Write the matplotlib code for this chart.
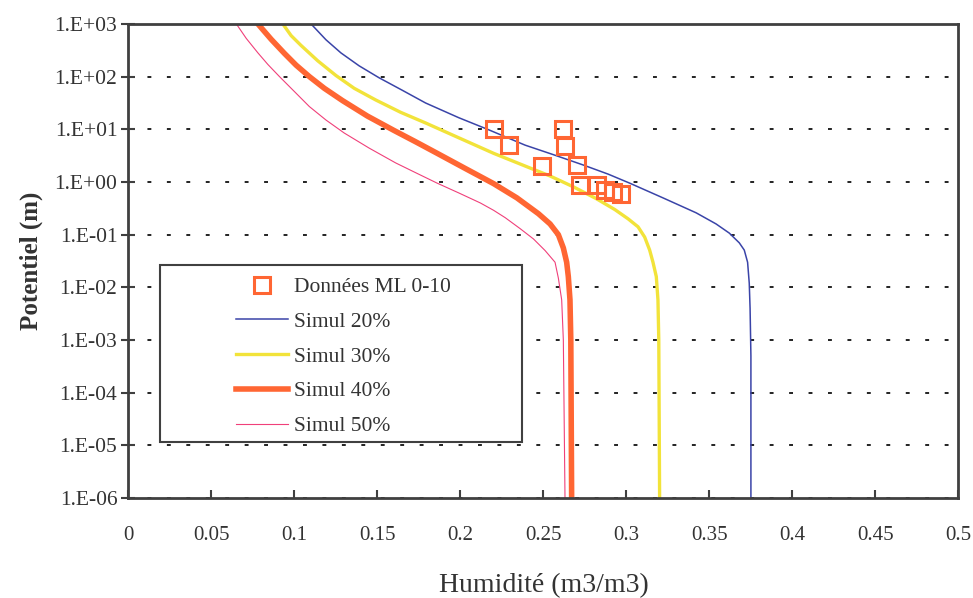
import matplotlib
matplotlib.use("Agg")
import matplotlib.pyplot as plt
from matplotlib.patches import Rectangle
from matplotlib.ticker import FuncFormatter, FixedLocator, NullLocator
import numpy as np

plt.rcParams['font.family'] = ['Liberation Serif', 'DejaVu Serif']

# measured data (Données ML 0-10)
obs_theta = [0.220, 0.229, 0.249, 0.262, 0.263, 0.270, 0.272, 0.282, 0.287, 0.292, 0.297]
obs_h = [10.2, 5.0, 2.0, 10.2, 4.9, 2.1, 0.86, 0.86, 0.70, 0.64, 0.58]

# simulated retention curves
s20_theta = [0.110, 0.119, 0.128, 0.139, 0.151, 0.165, 0.179, 0.199, 0.217, 0.239, 0.256,
             0.274, 0.289, 0.302, 0.322, 0.342, 0.354, 0.362, 0.368, 0.371, 0.373, 0.374,
             0.3745, 0.375, 0.375]
s20_h = [1000, 500, 282, 160, 95, 55, 31.6, 16.6, 9.8, 5.0, 3.3,
         2.1, 1.41, 0.95, 0.5, 0.26, 0.16, 0.107, 0.07, 0.051, 0.03, 0.012,
         0.004, 0.0005, 1e-6]

s30_theta = [0.093, 0.098, 0.104, 0.114, 0.125, 0.136, 0.149, 0.164, 0.179, 0.199, 0.220,
             0.240, 0.254, 0.268, 0.282, 0.293, 0.301, 0.307, 0.311, 0.314, 0.316, 0.318,
             0.319, 0.3195, 0.320]
s30_h = [1000, 600, 390, 200, 105, 60, 36, 21, 13.2, 6.9, 3.5,
         1.95, 1.3, 0.81, 0.48, 0.30, 0.2, 0.141, 0.09, 0.051, 0.03, 0.016,
         0.0058, 0.001, 1e-6]

s40_theta = [0.078, 0.086, 0.094, 0.101, 0.109, 0.118, 0.129, 0.144, 0.160, 0.173, 0.186,
             0.203, 0.220, 0.234, 0.247, 0.254, 0.259, 0.262, 0.264, 0.265, 0.266,
             0.2665, 0.267]
s40_h = [1000, 510, 275, 165, 100, 60, 35, 17.8, 9.5, 5.8, 3.5,
         1.8, 0.93, 0.50, 0.25, 0.16, 0.10, 0.056, 0.03, 0.016, 0.0058,
         0.001, 1e-6]

s50_theta = [0.065, 0.071, 0.078, 0.084, 0.091, 0.100, 0.109, 0.119, 0.130, 0.145, 0.161,
             0.174, 0.186, 0.199, 0.212, 0.220, 0.227, 0.236, 0.244, 0.251, 0.257,
             0.259, 0.261, 0.262, 0.263]
s50_h = [1000, 530, 282, 170, 100, 52, 27, 15, 8.5, 4.4, 2.3,
         1.45, 0.95, 0.62, 0.40, 0.29, 0.21, 0.13, 0.083, 0.05, 0.03,
         0.015, 0.0058, 0.001, 1e-6]

x_ticks = [0, 0.05, 0.1, 0.15, 0.2, 0.25, 0.3, 0.35, 0.4, 0.45, 0.5]
y_ticks = [1e-6, 1e-5, 1e-4, 1e-3, 1e-2, 1e-1, 1e0, 1e1, 1e2, 1e3]

fig = plt.figure(figsize=(9.73, 5.98), dpi=100)
ax = fig.add_axes([0.132, 0.167, 0.853, 0.793])

ax.plot(obs_theta, obs_h, linestyle='none', marker='s', markersize=12,
        markerfacecolor='none', markeredgecolor='#ff6633', markeredgewidth=2.2,
        label='Données ML 0-10', zorder=5)
ax.plot(s20_theta, s20_h, color='#3a44a8', lw=1.1, label='Simul 20%')
ax.plot(s30_theta, s30_h, color='#f2e33a', lw=2.4, label='Simul 30%')
ax.plot(s40_theta, s40_h, color='#ff6633', lw=4.0, label='Simul 40%')
ax.plot(s50_theta, s50_h, color='#f0407a', lw=0.8, label='Simul 50%')

ax.set_yscale('log')
ax.set_xlim(0, 0.5)
ax.set_ylim(1e-6, 1e3)
ax.xaxis.set_major_locator(FixedLocator(x_ticks))
ax.yaxis.set_major_locator(FixedLocator(y_ticks))
ax.yaxis.set_minor_locator(NullLocator())
ax.xaxis.set_major_formatter(FuncFormatter(lambda v, p: '%g' % v))
ax.yaxis.set_major_formatter(FuncFormatter(lambda v, p: '1.E%+03d' % int(round(np.log10(v)))))

ax.yaxis.grid(True, color='#222222', linestyle=(0, (2, 8)), lw=1.4)
ax.set_axisbelow(True)

for s in ax.spines.values():
    s.set_color('#404040')
    s.set_linewidth(2)

ax.tick_params(axis='y', direction='inout', length=10, width=1.5, color='#404040',
               labelsize=15.5, labelcolor='#333333', pad=3)
ax.tick_params(axis='x', direction='in', length=6, width=1.5, color='#404040',
               labelsize=15, labelcolor='#333333', pad=20)

ax.set_xlabel('Humidité (m3/m3)', fontsize=20, color='#333333', labelpad=20)
ax.set_ylabel('Potentiel (m)', fontsize=18, fontweight='bold', color='#333333', labelpad=8)

ax.add_patch(Rectangle((0.0386, 0.118), 0.436, 0.374, transform=ax.transAxes,
                       facecolor='white', edgecolor='#404040', lw=1.5, zorder=6))
leg = ax.legend(loc='upper left', bbox_to_anchor=(0.129, 0.466), borderaxespad=0,
                borderpad=0, frameon=False, handlelength=2.45, handletextpad=0.25,
                labelspacing=0.68, fontsize=15.5, numpoints=1)
leg.set_zorder(7)
for t in leg.get_texts():
    t.set_color('#333333')

fig.savefig('out.png', dpi=100)
